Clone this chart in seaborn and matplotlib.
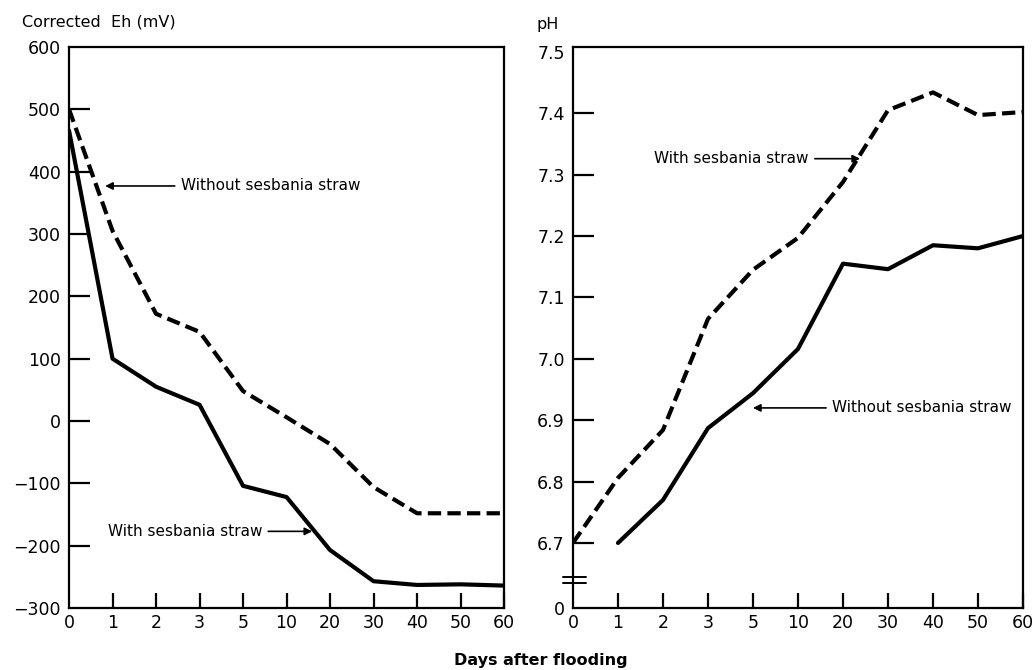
import pandas as pd
import matplotlib
matplotlib.use("Agg")
import matplotlib.pyplot as plt
import matplotlib.transforms as mtransforms
import seaborn as sns

# Days after flooding (plotted at equally spaced positions)
days = ["0", "1", "2", "3", "5", "10", "20", "30", "40", "50", "60"]

# Corrected Eh (mV)
eh_without = [500, 305, 172, 143, 48, 6, -37, -106, -148, -148, -148]
eh_with = [466, 100, 55, 26, -104, -122, -207, -257, -263, -262, -264]

# pH (no "without" value at day 0)
ph_with = [6.70, 6.806, 6.884, 7.065, 7.145, 7.197, 7.288, 7.405, 7.434, 7.397, 7.402]
ph_without = [None, 6.70, 6.77, 6.887, 6.944, 7.016, 7.155, 7.146, 7.185, 7.180, 7.200]

eh_ticks = [600, 500, 400, 300, 200, 100, 0, -100, -200, -300]
ph_ticks = [7.5, 7.4, 7.3, 7.2, 7.1, 7.0, 6.9, 6.8, 6.7]

sns.set_theme(style="white")
plt.rcParams['font.family'] = ['DejaVu Sans']
for k in ("text.color", "axes.labelcolor", "xtick.color", "ytick.color"):
    plt.rcParams[k] = "black"

pos = list(range(len(days)))
eh_df = pd.DataFrame({"pos": pos, "without": eh_without, "with": eh_with})
ph_df = pd.DataFrame({"pos": pos, "with": ph_with, "without": ph_without})

fig = plt.figure(figsize=(10.35, 6.7), dpi=100)
ax1 = fig.add_axes([0.0667, 0.0925, 0.4203, 0.8374])
ax2 = fig.add_axes([0.5536, 0.0925, 0.4348, 0.8374])

lw = 3.0
dash = (0, (3.2, 1.5))
# Left panel: Eh
sns.lineplot(data=eh_df, x="pos", y="without", ax=ax1, color="black", lw=lw,
             linestyle=dash)
sns.lineplot(data=eh_df, x="pos", y="with", ax=ax1, color="black", lw=lw)
ax1.set_ylim(-300, 600)
ax1.set_yticks(eh_ticks)
ax1.set_yticklabels([str(t).replace("-", "\u2212") for t in eh_ticks])

# Right panel: pH
sns.lineplot(data=ph_df, x="pos", y="with", ax=ax2, color="black", lw=lw,
             linestyle=dash)
sns.lineplot(data=ph_df.dropna(), x="pos", y="without", ax=ax2, color="black", lw=lw)
ph_bottom = 6.594
ax2.set_ylim(ph_bottom, 7.508)
ax2.set_yticks(ph_ticks + [ph_bottom])
ax2.set_yticklabels([f"{t:.1f}" for t in ph_ticks] + ["0"])

for ax in (ax1, ax2):
    ax.set_xlim(0, len(days) - 1)
    ax.set_xticks(pos)
    ax.set_xticklabels(days)
    ax.set_xlabel("")
    ax.set_ylabel("")
    for s in ax.spines.values():
        s.set_linewidth(1.6)
        s.set_color("black")
    ax.tick_params(axis="y", direction="in", length=15, width=1.6, color="black",
                   labelsize=12.5, pad=6, left=True)
    ax.tick_params(axis="x", direction="in", length=11, width=1.6, color="black",
                   labelsize=12.5, pad=4, bottom=True)

# hide tick marks that fall on the spines
for t in ax1.yaxis.get_major_ticks():
    if t.get_loc() in (600, -300):
        t.tick1line.set_visible(False)
for t in ax2.yaxis.get_major_ticks():
    if t.get_loc() in (7.5, ph_bottom):
        t.tick1line.set_visible(False)
for ax in (ax1, ax2):
    ax.xaxis.get_major_ticks()[0].tick1line.set_visible(False)

# axis break marks on pH axis
trans = mtransforms.blended_transform_factory(ax2.transAxes, ax2.transData)
for yb in (6.645, 6.634):
    ax2.plot([-0.022, 0.029], [yb, yb], color="black", lw=1.4,
             transform=trans, clip_on=False)

# annotations
arrow = dict(arrowstyle="-|>", color="black", lw=1.2, mutation_scale=11,
             shrinkA=2, shrinkB=0)
tfont = dict(fontsize=11, va="center")
ax1.annotate("Without sesbania straw", xy=(0.83, 377), xytext=(2.57, 377),
             ha="left", arrowprops=arrow, **tfont)
ax1.annotate("With sesbania straw", xy=(5.59, -177), xytext=(4.44, -177),
             ha="right", arrowprops=arrow, **tfont)
ax2.annotate("With sesbania straw", xy=(6.38, 7.326), xytext=(5.24, 7.326),
             ha="right", arrowprops=arrow, **tfont)
ax2.annotate("Without sesbania straw", xy=(4.0, 6.92), xytext=(5.76, 6.92),
             ha="left", arrowprops=arrow, **tfont)

fig.text(22 / 1035, 1 - 22 / 670, "Corrected  Eh (mV)", fontsize=11.5,
         ha="left", va="center")
fig.text(537 / 1035, 1 - 24 / 670, "pH", fontsize=11.5, ha="left", va="center")
fig.text(541 / 1035, 1 - 661 / 670, "Days after flooding", fontsize=11.5,
         fontweight="semibold", ha="center", va="center")

fig.savefig("out.png", dpi=100)
